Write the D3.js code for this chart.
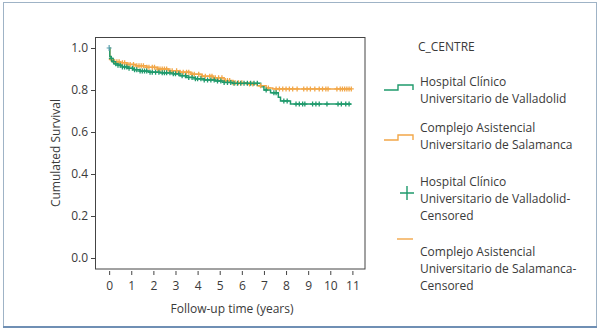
<!DOCTYPE html>
<html>
<head>
<meta charset="utf-8">
<script src="https://cdn.jsdelivr.net/npm/d3@7"></script>
<style>
  body { margin: 0; background: #fff; }
  text { font-family: "Open Sans", "Noto Sans", sans-serif; fill: #3a3a3a; }
</style>
</head>
<body>
<svg id="chart" width="600" height="332"></svg>
<script>
// Kaplan-Meier steps: [time in years, cumulated survival]
var vallSteps = [[0,1.0],[0.03,0.96],[0.08,0.95],[0.15,0.935],[0.25,0.925],[0.4,0.918],[0.6,0.91],
  [0.85,0.903],[1.1,0.897],[1.4,0.89],[1.8,0.885],[2.3,0.882],[2.9,0.877],[3.2,0.868],[3.5,0.86],
  [3.9,0.853],[4.3,0.848],[4.8,0.843],[5.2,0.836],[5.6,0.832],[6.85,0.815],[7.0,0.80],[7.3,0.787],
  [7.65,0.765],[7.75,0.748],[8.2,0.733]];
var salaSteps = [[0,1.0],[0.03,0.96],[0.08,0.945],[0.2,0.935],[0.5,0.93],[0.8,0.922],[1.2,0.915],
  [1.7,0.908],[2.2,0.9],[2.7,0.892],[3.2,0.885],[3.7,0.875],[4.2,0.866],[4.7,0.858],[5.2,0.845],
  [5.6,0.835],[6.2,0.828],[6.7,0.82],[7.1,0.81],[7.4,0.805]];
// censored observations (years)
var vallCensored = [0.1,0.2,0.3,0.4,0.5,0.6,0.7,0.8,0.9,1.05,1.15,1.25,1.4,1.5,1.6,1.7,1.85,1.95,2.1,
  2.25,2.4,2.5,2.6,2.75,2.9,3.0,3.15,3.3,3.45,3.6,3.75,3.9,4.0,4.15,4.3,4.45,4.6,4.75,4.9,5.05,5.2,
  5.35,5.5,5.65,5.8,5.95,6.1,6.25,6.4,6.55,6.7,7.1,7.45,7.55,7.9,8.05,8.45,8.6,8.75,8.85,9.2,9.35,
  9.5,9.85,10.35,10.5,10.7,10.85];
var salaCensored = [0.1,0.25,0.35,0.45,0.6,0.7,0.85,0.95,1.1,1.25,1.35,1.45,1.55,1.7,1.8,1.95,2.05,
  2.2,2.3,2.4,2.5,2.6,2.75,2.85,3.05,3.2,3.35,3.5,3.6,3.75,3.85,4.05,4.2,4.35,4.55,4.65,4.8,4.95,5.1,
  5.25,5.35,5.45,5.6,5.7,5.85,6.0,6.35,6.5,6.85,7.2,7.55,7.7,7.85,8.0,8.15,8.3,8.5,8.8,8.95,9.1,9.3,
  9.5,9.65,9.8,9.9,10.3,10.45,10.55,10.65,10.75,10.85,10.95];
var lastTime = 10.95;

var xTicks = [0,1,2,3,4,5,6,7,8,9,10,11];
var yTicks = [0.0,0.2,0.4,0.6,0.8,1.0];
var legendTitle = "C_CENTRE";
var legendItems = [
  ["Hospital Clínico", "Universitario de Valladolid"],
  ["Complejo Asistencial", "Universitario de Salamanca"],
  ["Hospital Clínico", "Universitario de Valladolid-", "Censored"],
  ["Complejo Asistencial", "Universitario de Salamanca-", "Censored"]
];

var green = "#1f9a6c", orange = "#f2a748";
var svg = d3.select("#chart");

// outer frame
svg.append("rect").attr("x", 3.5).attr("y", 2.5).attr("width", 593).attr("height", 324)
  .attr("fill", "none").attr("stroke", "#9fb3c6");
svg.append("line").attr("x1", 3).attr("x2", 597).attr("y1", 327).attr("y2", 327)
  .attr("stroke", "#6f8fb4").attr("stroke-width", 2);

var x = d3.scaleLinear().domain([-0.64, 11.57]).range([95, 365]);
var y = d3.scaleLinear().domain([0, 1]).range([258, 48]);

// plot frame
svg.append("rect").attr("x", 95.5).attr("y", 37.5).attr("width", 269.5).attr("height", 231.5)
  .attr("fill", "none").attr("stroke", "#444");

// axes
var gx = svg.append("g").attr("transform", "translate(0,271)")
  .call(d3.axisBottom(x).tickValues(xTicks).tickSize(4).tickPadding(6).tickFormat(d3.format("d")));
var gy = svg.append("g").attr("transform", "translate(95,0)")
  .call(d3.axisLeft(y).tickValues(yTicks).tickSize(4).tickPadding(3).tickFormat(d3.format(".1f")));
[gx, gy].forEach(function(g) {
  g.select(".domain").remove();
  g.selectAll(".tick line").attr("stroke", "#444");
  g.selectAll("text").attr("font-size", 12).attr("fill", "#444")
    .attr("font-family", "'Open Sans', 'Noto Sans', sans-serif");
});

svg.append("text").text("Follow-up time (years)").attr("x", 232).attr("y", 313)
  .attr("text-anchor", "middle").attr("font-size", 12);
svg.append("text").text("Cumulated Survival")
  .attr("transform", "translate(60,153) rotate(-90)")
  .attr("text-anchor", "middle").attr("font-size", 12);

// survival curves
function survAt(steps, t) {
  var s = steps[0][1];
  steps.forEach(function(d) { if (d[0] <= t) s = d[1]; });
  return s;
}
function curve(steps, color) {
  var pts = steps.concat([[lastTime, steps[steps.length - 1][1]]]);
  svg.append("path").datum(pts)
    .attr("d", d3.line().x(function(d) { return x(d[0]); }).y(function(d) { return y(d[1]); })
      .curve(d3.curveStepAfter))
    .attr("fill", "none").attr("stroke", color).attr("stroke-width", 1.5);
}
function marks(times, steps, color) {
  svg.append("g").selectAll("path").data(times).join("path")
    .attr("d", function(t) {
      var cx = x(t), cy = y(survAt(steps, t));
      return "M" + (cx - 2.5) + "," + cy + "H" + (cx + 2.5) + "M" + cx + "," + (cy - 2.5) + "V" + (cy + 2.5);
    })
    .attr("stroke", color).attr("stroke-width", 1.3).attr("fill", "none");
}
curve(salaSteps, orange);
curve(vallSteps, green);
marks(salaCensored, salaSteps, orange);
marks(vallCensored, vallSteps, green);
// starting point mark
svg.append("path").attr("d", "M" + x(0) + "," + (y(1) - 3) + "V" + (y(1) + 3) + "M" + (x(0) - 2.5) + "," + y(1) + "H" + (x(0) + 2.5))
  .attr("stroke", "#5a9fb0").attr("stroke-width", 1.2);

// legend
var lg = svg.append("g");
lg.append("text").text(legendTitle).attr("x", 418).attr("y", 51).attr("font-size", 12);
var itemTop = [86, 132, 186, 256];
legendItems.forEach(function(lines, i) {
  lines.forEach(function(s, j) {
    lg.append("text").text(s).attr("x", 420).attr("y", itemTop[i] + j * 17).attr("font-size", 12);
  });
});
var stepSym = function(yTop, color) {
  lg.append("path").attr("d", "M384," + (yTop + 5) + "H398V" + yTop + "H413V" + (yTop + 5))
    .attr("fill", "none").attr("stroke", color).attr("stroke-width", 1.4);
};
stepSym(85, green);
stepSym(135, orange);
lg.append("path").attr("d", "M400,193H414M407,186V200").attr("stroke", green).attr("stroke-width", 1.4);
lg.append("path").attr("d", "M397,239H413").attr("stroke", orange).attr("stroke-width", 1.4);
</script>
</body>
</html>
